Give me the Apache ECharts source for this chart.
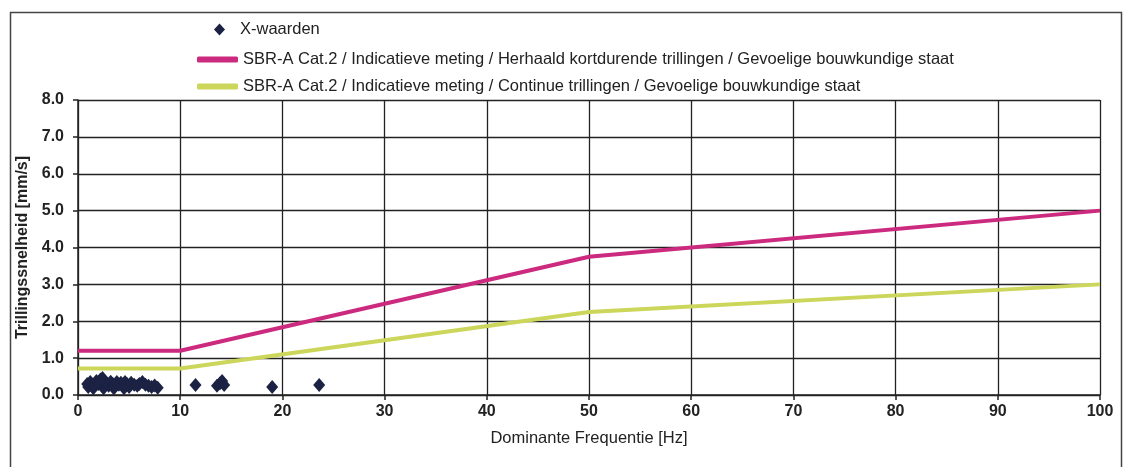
<!DOCTYPE html>
<html>
<head>
<meta charset="utf-8">
<script src="https://cdn.jsdelivr.net/npm/echarts@6/dist/echarts.min.js"></script>
<style>
  html, body { margin: 0; padding: 0; background: #fff; }
  #chart { width: 1134px; height: 467px; }
</style>
</head>
<body>
<div id="chart"></div>
<script>
  // meetpunten (frequentie Hz, snelheid mm/s)
  const xFreq = [0.9, 1.0, 1.2, 1.4, 1.5, 1.6, 1.8, 2.0, 2.2, 2.4, 2.5, 2.6, 2.8, 3.0, 3.2, 3.4, 3.5, 3.6, 3.8, 4.0,
                 4.2, 4.4, 4.5, 4.6, 4.8, 5.0, 5.2, 5.5, 5.8, 6.0, 6.3, 6.6, 6.9, 7.2, 7.5, 7.8,
                 11.5, 13.6, 13.9, 14.1, 14.3, 19.0, 23.6];
  const xVal  = [0.30, 0.22, 0.35, 0.28, 0.18, 0.25, 0.38, 0.30, 0.42, 0.46, 0.18, 0.38, 0.32, 0.25, 0.36, 0.30, 0.18, 0.22, 0.35, 0.28,
                 0.33, 0.25, 0.18, 0.35, 0.30, 0.22, 0.33, 0.28, 0.25, 0.30, 0.35, 0.28, 0.25, 0.22, 0.26, 0.20,
                 0.27, 0.25, 0.32, 0.38, 0.27, 0.22, 0.27];

  // SBR-A grenslijnen
  const lineFreq = [0, 10, 50, 100];
  const herhaaldVal = [1.2, 1.2, 3.75, 5.0];
  const continueVal = [0.72, 0.72, 2.25, 3.0];

  const yTicks = [0, 1, 2, 3, 4, 5, 6, 7, 8];

  const names = [
    'X-waarden',
    'SBR-A Cat.2 / Indicatieve meting / Herhaald kortdurende trillingen / Gevoelige bouwkundige staat',
    'SBR-A Cat.2 / Indicatieve meting / Continue trillingen / Gevoelige bouwkundige staat'
  ];

  const pair = (xs, ys) => xs.map((x, i) => [x, ys[i]]);

  const font = '"Liberation Sans", Arial, sans-serif';
  const chart = echarts.init(document.getElementById('chart'));

  chart.setOption({
    animation: false,
    backgroundColor: '#fff',
    graphic: [{
      type: 'rect',
      shape: { x: 10.5, y: 12.5, width: 1111, height: 470 },
      style: { fill: 'none', stroke: '#444', lineWidth: 1.5 },
      silent: true
    }],
    grid: { left: 78, right: 34, top: 100, bottom: 72 },
    legend: [{
      data: [names[0]],
      left: 209, top: 16,
      itemWidth: 11, itemHeight: 12,
      icon: 'diamond',
      textStyle: { fontFamily: font, fontSize: 16.5, color: '#222', padding: [0, 0, 0, 10] }
    }, {
      data: [names[1], names[2]],
      orient: 'vertical',
      left: 192, top: 46,
      itemGap: 10,
      itemWidth: 41, itemHeight: 6,
      icon: 'roundRect',
      textStyle: { fontFamily: font, fontSize: 16.5, color: '#222' }
    }],
    xAxis: {
      type: 'value',
      min: 0, max: 100, interval: 10,
      name: 'Dominante Frequentie [Hz]',
      nameLocation: 'middle',
      nameGap: 35,
      nameTextStyle: { fontFamily: font, fontSize: 16.5, color: '#222' },
      axisLine: { lineStyle: { color: '#222', width: 1.5 } },
      axisTick: { show: true, length: 5, lineStyle: { color: '#222', width: 1.5 } },
      axisLabel: { fontFamily: font, fontSize: 16, fontWeight: 'bold', color: '#222', margin: 9 },
      splitLine: { show: true, lineStyle: { color: '#222', width: 1.3 } }
    },
    yAxis: {
      type: 'value',
      min: yTicks[0], max: yTicks[yTicks.length - 1], interval: 1,
      name: 'Trillingssnelheid [mm/s]',
      nameLocation: 'middle',
      nameGap: 44,
      nameTextStyle: { fontFamily: font, fontSize: 16, fontWeight: 'bold', color: '#222' },
      axisLine: { show: true, lineStyle: { color: '#222', width: 1.5 } },
      axisTick: { show: true, length: 5, lineStyle: { color: '#222', width: 1.5 } },
      axisLabel: {
        fontFamily: font, fontSize: 16, fontWeight: 'bold', color: '#222', margin: 14,
        formatter: v => v.toFixed(1)
      },
      splitLine: { show: true, lineStyle: { color: '#222', width: 1.3 } }
    },
    series: [{
      name: names[0],
      type: 'scatter',
      data: pair(xFreq, xVal),
      symbol: 'diamond',
      symbolSize: [12, 14],
      itemStyle: { color: '#1b2244', opacity: 1 },
      z: 5
    }, {
      name: names[1],
      type: 'line',
      data: pair(lineFreq, herhaaldVal),
      symbol: 'none',
      lineStyle: { color: '#cc2a7e', width: 4 },
      itemStyle: { color: '#cc2a7e' }
    }, {
      name: names[2],
      type: 'line',
      data: pair(lineFreq, continueVal),
      symbol: 'none',
      lineStyle: { color: '#cbd65a', width: 4 },
      itemStyle: { color: '#cbd65a' }
    }]
  });
</script>
</body>
</html>
